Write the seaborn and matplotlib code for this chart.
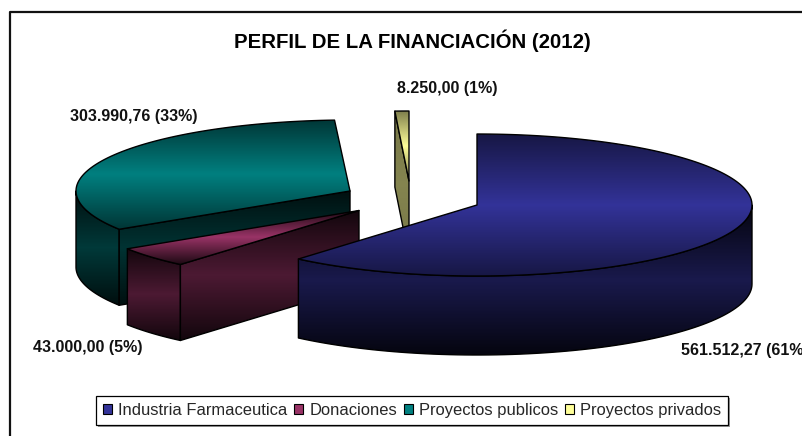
import numpy as np
import matplotlib
matplotlib.use('Agg')
from matplotlib import pyplot as plt
from matplotlib.patches import Polygon, Patch, Rectangle
import seaborn as sns

categories = ['Industria Farmaceutica', 'Donaciones', 'Proyectos publicos', 'Proyectos privados']
values = [561512.27, 43000.00, 303990.76, 8250.00]
colors = ['#333399', '#993366', '#008080', '#FFFF99']
title = 'PERFIL DE LA FINANCIACIÓN (2012)'

# placement of each exploded slice in pixels: centre x, centre y, radius x, radius y, depth
geometry = [
    (477, 205, 275, 71, 79),
    (359, 210.5, 275, 71, 76),
    (350, 191, 274, 71, 76),
    (409, 181, 250, 70, 76),
]
label_pos = [(681, 350), (33, 347), (70, 116), (397, 89)]

sns.set_theme(style='white')
plt.rcParams['font.family'] = ['Liberation Sans', 'DejaVu Sans']

fig = plt.figure(figsize=(8.02, 4.36), dpi=100)
ax = fig.add_axes([0, 0, 1, 1])
ax.set_xlim(0, 802)
ax.set_ylim(436, 0)
ax.axis('off')
ax.set_autoscale_on(False)

# clockwise angles from 12 o'clock, taken from the values
total = sum(values)
ends = np.cumsum(values) / total * 360
starts = np.concatenate([[0], ends[:-1]])


def arc(geo, t1, t2, n=80):
    cx, cy, a, b, _ = geo
    t = np.radians(np.linspace(t1, t2, n))
    return np.column_stack([cx + a * np.sin(t), cy - b * np.cos(t)])


def shaded(points, edge_color, mid, z, lo=0.42):
    """Fill a polygon with a vertical dark-bright-dark gradient."""
    points = np.asarray(points)
    dark = tuple(c * lo for c in matplotlib.colors.to_rgb(mid))
    cmap = sns.blend_palette([dark, mid, dark], as_cmap=True)
    y0, y1 = points[:, 1].min(), points[:, 1].max()
    x0, x1 = points[:, 0].min(), points[:, 0].max()
    img = ax.imshow(np.linspace(0, 1, 128).reshape(-1, 1), cmap=cmap, aspect='auto',
                    extent=(x0, x1, y1, y0), zorder=z, interpolation='bilinear')
    clip = Polygon(points, closed=True, transform=ax.transData)
    img.set_clip_path(clip)
    ax.add_patch(Polygon(points, closed=True, fill=False, edgecolor=edge_color, lw=1.0, zorder=z + 0.5,
                         joinstyle='round'))


def wall(outer, depth):
    return np.vstack([outer, (outer + [0, depth])[::-1]])


def scale(color, k):
    return tuple(c * k for c in matplotlib.colors.to_rgb(color))


edge = 'black'
geo = geometry[2]
centre = np.array(geo[:2], dtype=float)
rim = arc(geo, starts[2], 270)
shaded(wall(rim, geo[4]), edge, scale(colors[2], 0.45), 2, lo=0.25)
spoke = np.vstack([centre, arc(geo, starts[2], starts[2], 1)])
shaded(wall(spoke, geo[4]), edge, scale(colors[2], 0.4), 3, lo=0.3)
shaded(np.vstack([centre, arc(geo, starts[2], ends[2])]), edge, colors[2], 4)

geo = geometry[3]
centre = np.array(geo[:2], dtype=float)
spoke = np.vstack([centre, arc(geo, starts[3], starts[3], 1)])
shaded(wall(spoke, geo[4]), edge, scale(colors[3], 0.52), 5, lo=0.9)
shaded(np.vstack([centre, arc(geo, starts[3], ends[3], 5)]), edge, colors[3], 6, lo=0.5)

geo = geometry[1]
centre = np.array(geo[:2], dtype=float)
rim = arc(geo, starts[1], ends[1])
shaded(wall(rim, geo[4]), edge, scale(colors[1], 0.5), 7, lo=0.25)
spoke = np.vstack([centre, arc(geo, starts[1], starts[1], 1)])
shaded(wall(spoke, geo[4]), edge, scale(colors[1], 0.5), 8, lo=0.25)
shaded(np.vstack([centre, arc(geo, starts[1], ends[1])]), edge, colors[1], 9, lo=0.2)

geo = geometry[0]
centre = np.array(geo[:2], dtype=float)
rim = arc(geo, 90, ends[0])
shaded(wall(rim, geo[4]), edge, scale(colors[0], 0.5), 10, lo=0.2)
shaded(np.vstack([centre, arc(geo, starts[0], ends[0], 160)]), edge, colors[0], 11, lo=0.45)

ax.text(412.5, 41, title, ha='center', va='center', fontsize=14.7, fontweight='bold', color='black', zorder=20)

for v, (x, y) in zip(values, label_pos):
    txt = f'{v:,.2f}'.replace(',', '#').replace('.', ',').replace('#', '.')
    ax.text(x, y, f'{txt} ({v / total * 100:.0f}%)', ha='left', va='center', fontsize=11.5,
            fontweight='bold', color='#111111', zorder=20, clip_on=False)

# outer chart frame, runs off the right and bottom of the picture
ax.plot([803, 10, 10], [12.5, 12.5, 437], color='#111111', lw=1.6, zorder=21, clip_on=False)

handles = [Patch(facecolor=c, edgecolor='black', lw=0.8) for c in colors]
ax.add_patch(Rectangle((97.5, 397.5), 632, 29, facecolor='#999999', edgecolor='none', zorder=21))
leg = ax.legend(handles, categories, ncol=4, loc='center', bbox_to_anchor=(412, 410.5),
                bbox_transform=ax.transData, frameon=True, fancybox=False, edgecolor='black',
                facecolor='white', framealpha=1, fontsize=11.9, handlelength=0.55, handleheight=0.6,
                handletextpad=0.38, columnspacing=0.4, borderpad=0.42, borderaxespad=0)
leg.get_frame().set_linewidth(0.9)
leg.set_zorder(22)

fig.savefig('out.png', dpi=100, facecolor='white')
fig.canvas.draw()
print(leg.get_window_extent())
